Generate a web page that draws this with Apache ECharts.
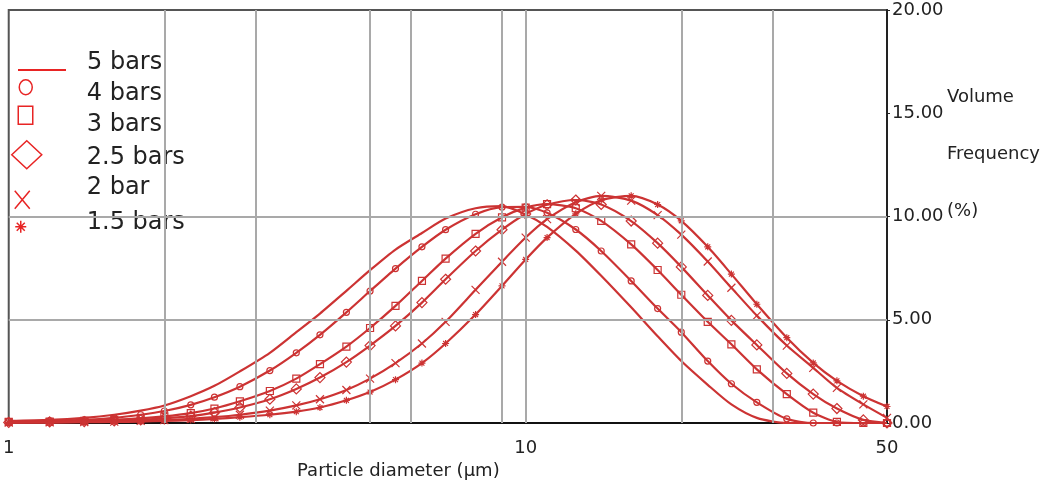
<!DOCTYPE html>
<html><head><meta charset="utf-8">
<script src="https://cdn.jsdelivr.net/npm/echarts@6/dist/echarts.min.js"></script>
<style>html,body{margin:0;padding:0;background:#fff}#c{width:1053px;height:491px}</style>
</head><body><div id="c"></div>
<script>
// Particle diameters (µm) at which values were read
const diameters = [1, 1.2, 1.4, 1.6, 1.8, 2, 2.25, 2.5, 2.8, 3.2, 3.6, 4, 4.5, 5, 5.6, 6.3, 7, 8, 9, 10, 11, 12.5, 14, 16, 18, 20, 22.5, 25, 28, 32, 36, 40, 45, 50];
// Volume frequency (%) per pressure
const bars5  = [0.1, 0.15, 0.25, 0.4, 0.6, 0.85, 1.3, 1.8, 2.5, 3.4, 4.4, 5.3, 6.4, 7.4, 8.4, 9.2, 9.9, 10.4, 10.5, 10.1, 9.5, 8.35, 7.13, 5.6, 4.2, 3.0, 1.85, 0.9, 0.25, 0, 0, 0, 0, 0];
const bars4  = [0.08, 0.1, 0.15, 0.25, 0.4, 0.58, 0.88, 1.25, 1.76, 2.54, 3.4, 4.27, 5.36, 6.39, 7.48, 8.53, 9.36, 10.11, 10.45, 10.47, 10.18, 9.37, 8.33, 6.88, 5.54, 4.4, 3.0, 1.9, 1.0, 0.2, 0, 0, 0, 0];
const bars3  = [0.05, 0.07, 0.1, 0.15, 0.22, 0.32, 0.48, 0.7, 1.05, 1.55, 2.15, 2.85, 3.7, 4.6, 5.67, 6.88, 7.96, 9.16, 9.96, 10.43, 10.6, 10.4, 9.79, 8.65, 7.41, 6.21, 4.9, 3.81, 2.6, 1.4, 0.5, 0.05, 0, 0];
const bars25 = [0.03, 0.05, 0.07, 0.1, 0.15, 0.22, 0.33, 0.5, 0.75, 1.15, 1.65, 2.2, 2.95, 3.75, 4.7, 5.83, 6.96, 8.33, 9.36, 10.12, 10.57, 10.8, 10.58, 9.78, 8.71, 7.56, 6.18, 4.97, 3.78, 2.4, 1.4, 0.7, 0.15, 0];
const bars2  = [0.02, 0.03, 0.05, 0.07, 0.1, 0.14, 0.2, 0.28, 0.4, 0.6, 0.85, 1.15, 1.6, 2.15, 2.9, 3.85, 4.9, 6.45, 7.81, 8.98, 9.87, 10.69, 11.0, 10.77, 10.07, 9.12, 7.82, 6.55, 5.2, 3.75, 2.67, 1.7, 0.9, 0.25];
const bars15 = [0.02, 0.02, 0.04, 0.05, 0.07, 0.1, 0.14, 0.2, 0.28, 0.4, 0.55, 0.75, 1.1, 1.5, 2.1, 2.9, 3.85, 5.25, 6.64, 7.92, 8.98, 10.13, 10.79, 11.0, 10.58, 9.79, 8.53, 7.21, 5.75, 4.13, 2.91, 2.04, 1.3, 0.8];

const seriesNames = ['5 bars', '4 bars', '3 bars', '2.5 bars', '2 bar', '1.5 bars'];
const seriesValues = [bars5, bars4, bars3, bars25, bars2, bars15];
const xTickLabels = ['1', '10', '50'];
const yTickLabels = ['0.00', '5.00', '10.00', '15.00', '20.00'];
const xGridValues = [2, 3, 5, 6, 9, 10, 20, 30];
const yGridValues = [5, 10];
const yAxisTitle = ['Volume', 'Frequency', '(%)'];
const xAxisTitle = 'Particle diameter (µm)';

const FONT = 'DejaVu Sans';
const RED = '#cc3333';
const LRED = '#e82424';
const TXT = '#222';
const XPATH = 'path://M0,0L10,12M10,0L0,12';
const STARPATH = 'path://M5,0L5,10M0,5L10,5M1.5,1.5L8.5,8.5M8.5,1.5L1.5,8.5';
const symbols = ['none', 'circle', 'rect', 'diamond', XPATH, STARPATH];
const symbolSizes = [0, 6, 7, 10, 8, 7];

const series = [{
  type: 'line', name: '_grid', data: [], silent: true, z: 1,
  markLine: {
    silent: true, symbol: ['none', 'none'], label: {show: false}, animation: false,
    lineStyle: {color: '#a9a9a9', width: 2, type: 'solid'},
    emphasis: {disabled: true},
    data: xGridValues.map(v => ({xAxis: v})).concat(yGridValues.map(v => ({yAxis: v})))
  }
}];
seriesNames.forEach((name, k) => {
  series.push({
    type: 'line', name: name, z: 2,
    data: diameters.map((d, i) => [d, seriesValues[k][i]]),
    symbol: symbols[k], symbolSize: symbolSizes[k], showSymbol: k > 0, showAllSymbol: true,
    smooth: 0.25,
    lineStyle: {color: RED, width: 2.2},
    itemStyle: {color: 'rgba(0,0,0,0)', borderColor: RED, borderWidth: 1.2},
    emphasis: {disabled: true}
  });
});

// Legend icons: each drawn in a 71x44 box whose left edge is x=10 (corner moves fix the box)
const BOX_W = 71, BOX_H = 44;
function iconPath(body) { return 'path://M0,0' + body + 'M' + BOX_W + ',' + BOX_H; }
const legendIcons = [
  iconPath('M7,29L55,29'),
  iconPath('M8.5,15.5A6.5,7.5 0 1 1 21.5,15.5A6.5,7.5 0 1 1 8.5,15.5Z'),
  iconPath('M7.5,3.5L22,3.5L22,21.5L7.5,21.5Z'),
  iconPath('M1,19L16,5L31,19L16,33Z'),
  iconPath('M4,25L19,43M19,25L4,43'),
  iconPath('M10,20L10,32M4.5,26L15.5,26M6,22L14,30M14,22L6,30')
];
const legendTextCenters = [62, 93, 124, 157, 187, 222];

const legends = seriesNames.map((name, k) => ({
  data: [{name: name, icon: legendIcons[k]}], left: 10, top: legendTextCenters[k] - BOX_H / 2, padding: 0,
  itemWidth: BOX_W, itemHeight: BOX_H, selectedMode: false, z: 5, symbolKeepAspect: true,
  itemStyle: {color: 'rgba(0,0,0,0)', borderColor: LRED, borderWidth: k === 0 ? 2 : 1.5},
  textStyle: {fontFamily: FONT, fontSize: 24, color: TXT}
}));

const option = {
  animation: false,
  backgroundColor: '#fff',
  grid: {left: 8, right: 166, top: 10, bottom: 68, show: true, borderColor: '#555', borderWidth: 2, backgroundColor: 'transparent'},
  xAxis: {
    type: 'log', logBase: 10, min: 1, max: 50,
    axisLine: {show: true, lineStyle: {color: '#111', width: 2}},
    axisTick: {show: false}, splitLine: {show: false},
    axisLabel: {margin: 16, fontFamily: FONT, fontSize: 18, color: TXT, showMaxLabel: true, showMinLabel: true,
      formatter: v => { const s = String(Math.round(v)); return xTickLabels.indexOf(s) >= 0 ? s : ''; }},
    name: xAxisTitle, nameLocation: 'middle', nameGap: 38,
    nameTextStyle: {fontFamily: FONT, fontSize: 18, color: TXT, padding: [0, 99, 0, 0]}
  },
  yAxis: {
    type: 'value', position: 'right', min: 0, max: 20, interval: 5,
    axisLine: {show: true, lineStyle: {color: '#222', width: 2}},
    axisTick: {show: true, length: 3, lineStyle: {color: '#222'}},
    splitLine: {show: false},
    axisLabel: {margin: 5, fontFamily: FONT, fontSize: 18, color: TXT, formatter: v => yTickLabels[Math.round(v / 5)]}
  },
  legend: legends,
  graphic: {elements: [
    {type: 'rect', left: 10, top: 40, z: 3, silent: true, shape: {width: 191, height: 200}, style: {fill: '#fff'}},
    {type: 'text', left: 947, top: 69, z: 5, silent: true,
      style: {text: yAxisTitle.join('\n'), fontFamily: FONT, fontSize: 18, lineHeight: 57, fill: TXT}}
  ]},
  series: series
};
const chart = echarts.init(document.getElementById('c'), null, {renderer: 'canvas'});
chart.setOption(option);
</script></body></html>
